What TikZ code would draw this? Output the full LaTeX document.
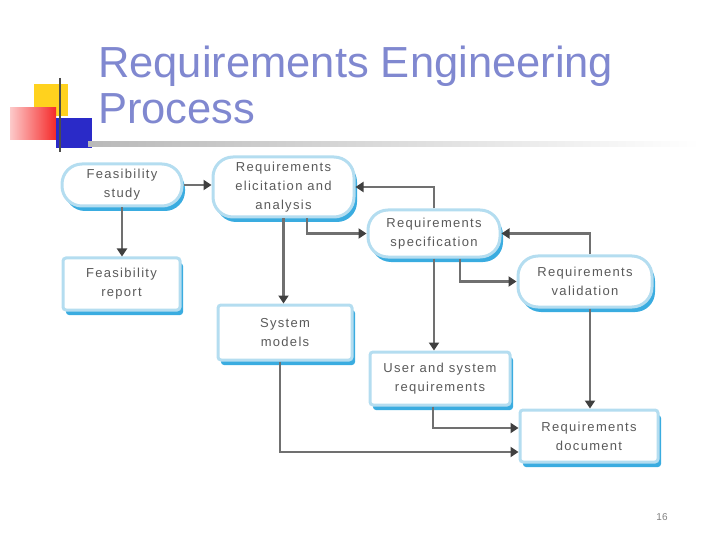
\documentclass[tikz,border=0pt]{standalone}
\usepackage{fontspec}
\setmainfont{Liberation Sans}
\newfontfamily\boxfont[LetterSpace=10]{Liberation Sans}
\usetikzlibrary{arrows.meta,shadows,calc}
\definecolor{titlec}{HTML}{8088D0}
\definecolor{edgeblue}{HTML}{B4DDF0}
\definecolor{shadowblue}{HTML}{3AACE0}
\definecolor{textgray}{HTML}{5A5A5A}
\definecolor{linegray}{HTML}{707070}
\definecolor{tipgray}{HTML}{404040}
\definecolor{logoyellow}{HTML}{FFD21E}
\definecolor{logored}{HTML}{F52A2A}
\definecolor{logoblue}{HTML}{2A2AC8}
\begin{document}
\begin{tikzpicture}[x=1bp,y=-1bp,
  box/.style={draw=edgeblue, line width=3bp, fill=white, text=textgray,
    font=\boxfont\fontsize{13bp}{19bp}\selectfont, align=center, inner sep=0pt,
    drop shadow={shadow xshift=3bp, shadow yshift=-5bp, fill=shadowblue, opacity=1}},
  stadium/.style={box, rounded corners=20bp},
  rectbox/.style={box, rounded corners=3bp},
  conn/.style={draw=linegray, line width=2.6bp, -{Triangle[width=10bp,length=8bp,fill=tipgray,color=tipgray]}},
  titletext/.style={anchor=base west, font=\fontsize{43.5bp}{46bp}\selectfont, text=titlec, inner sep=0pt}
]
\useasboundingbox (0,0) rectangle (720,540);
% logo
\fill[logoyellow] (34,84) rectangle (68,116);
\shade[left color=logored!25, right color=logored] (10,108) rectangle (56,140);
\fill[logoblue] (56,118) rectangle (92,148);
\draw[gray!60!black, line width=1.5bp] (60,78) -- (60,152);
% title rule
\shade[left color=gray!55, right color=white] (88,142) rectangle (700,147);
% title
\node[titletext] (t1) at (98,78) {Requirements Engineering};
\node[titletext] (t2) at (98,124) {Process};
% nodes
\node[stadium, minimum width=120bp, minimum height=42bp] (study) at (122,185) {Feasibility\\study};
\node[stadium, minimum width=141bp, minimum height=60bp] (elic) at (283.5,187) {Requirements\\elicitation and\\analysis};
\node[stadium, minimum width=132bp, minimum height=47bp] (spec) at (434,233.5) {Requirements\\specification};
\node[stadium, minimum width=134bp, minimum height=51bp] (valid) at (585,281.5) {Requirements\\validation};
\node[rectbox, minimum width=117bp, minimum height=52bp] (report) at (121.5,284) {Feasibility\\report};
\node[rectbox, minimum width=134bp, minimum height=55bp] (models) at (285,332.5) {System\\models};
\node[rectbox, minimum width=140bp, minimum height=53bp] (user) at (440,378.5) {User and system\\requirements};
\node[rectbox, minimum width=138bp, minimum height=52bp] (doc) at (589,436) {Requirements\\document};
% helper x positions
\coordinate (x307) at (307,0);
\coordinate (x460) at (460,0);
\coordinate (x590) at (590,0);
\coordinate (x433) at (433,0);
\coordinate (x280) at (280,0);
% connectors
\draw[conn] (study.east) -- (study.east -| elic.west);
\draw[conn] (study.south) -- (study.south |- report.north);
\draw[conn] (elic.south) -- (elic.south |- models.north);
\draw[conn] (elic.south -| x307) |- (spec.west);
\draw[conn] (spec.north) |- (elic.east);
\draw[conn] (spec.south) -- (spec.south |- user.north);
\draw[conn] (spec.south -| x460) |- (valid.west);
\draw[conn] (valid.north -| x590) |- (spec.east);
\draw[conn] (valid.south -| x590) -- (doc.north -| x590);
\draw[conn] (user.south -| x433) |- ([yshift=8bp]doc.west);
\draw[conn] (models.south -| x280) |- ([yshift=-16bp]doc.west);
% page number
\node[font=\fontsize{10bp}{12bp}\selectfont, text=gray] (pg) at (662,517) {16};
\end{tikzpicture}
\end{document}
